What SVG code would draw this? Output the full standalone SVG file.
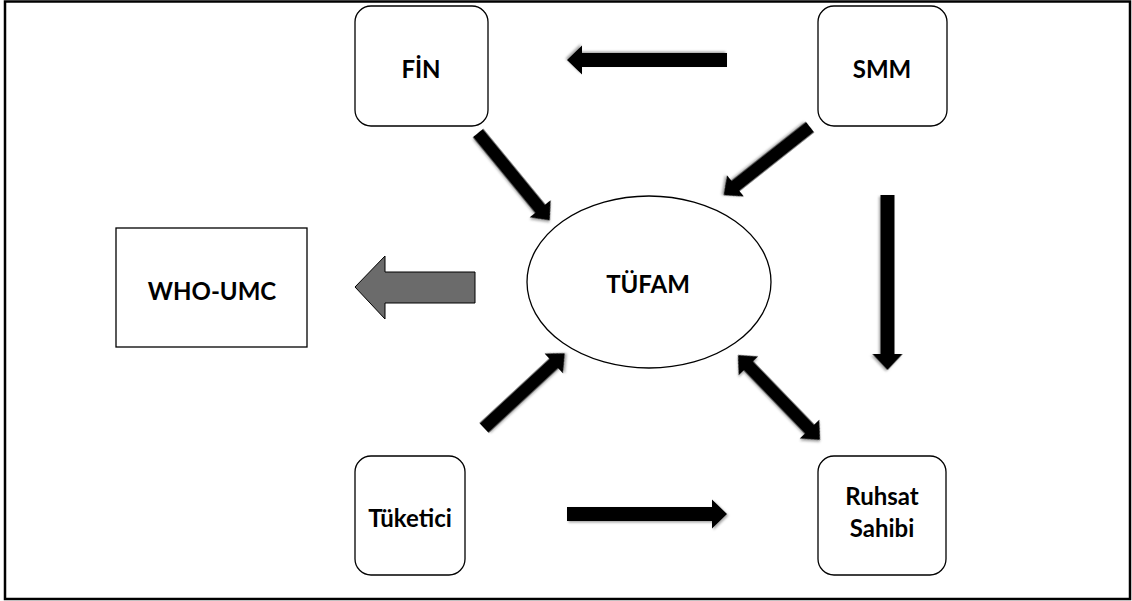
<svg xmlns="http://www.w3.org/2000/svg" width="1132" height="601" viewBox="0 0 1132 601">
<defs>
<style>
.box{fill:#fff;stroke:#000;stroke-width:1.3}
.lbl{font-family:"Lato","Open Sans",sans-serif;font-weight:700;font-size:24px;fill:#000;text-anchor:middle}
.arr{fill:#000;filter:url(#sh)}
</style>
<filter id="sh" x="-20%" y="-20%" width="140%" height="140%">
<feDropShadow dx="1.5" dy="1.5" stdDeviation="1.2" flood-color="#000" flood-opacity="0.35"/>
</filter>
</defs>
<rect x="5" y="1.5" width="1125" height="597.5" fill="#fff" stroke="#000" stroke-width="2.5"/>
<g id="connectors">
<polygon class="arr" points="0,-7 145,-7 145,-14.5 160,0 145,14.5 145,7 0,7" transform="translate(727,60) rotate(180)"/>
<polygon class="arr" points="0,-6.5 95,-6.5 95,-13.5 110,0 95,13.5 95,6.5 0,6.5" transform="translate(810,127) rotate(141.7)"/>
<polygon class="arr" points="0,-6.5 98,-6.5 98,-13.5 113,0 98,13.5 98,6.5 0,6.5" transform="translate(478,133) rotate(50.6)"/>
<polygon class="arr" points="0,-6.5 95,-6.5 95,-13.5 110,0 95,13.5 95,6.5 0,6.5" transform="translate(484,428) rotate(-42.8)"/>
<polygon class="arr" points="0,0 15,-13.5 15,-6.5 103,-6.5 103,-13.5 118,0 103,13.5 103,6.5 15,6.5 15,13.5" transform="translate(738,355) rotate(46)"/>
<polygon class="arr" points="0,-7 159,-7 159,-15 175,0 159,15 159,7 0,7" transform="translate(887.5,195) rotate(90)"/>
<polygon class="arr" points="0,-7 145,-7 145,-14.5 160,0 145,14.5 145,7 0,7" transform="translate(567,514)"/>
<polygon points="355,287 385,256 385,272 475,272 475,303 385,303 385,319" fill="#6b6b6b" stroke="#000" stroke-width="1"/>
</g>
<g id="fin">
<rect class="box" x="355" y="6" width="133" height="120" rx="16"/>
<text class="lbl" x="421" y="78">FİN</text>
</g>
<g id="smm">
<rect class="box" x="818" y="6" width="129" height="120" rx="16"/>
<text class="lbl" x="882" y="78">SMM</text>
</g>
<g id="tufam">
<ellipse cx="649" cy="282" rx="122" ry="86" fill="#fff" stroke="#000" stroke-width="1.3"/>
<text class="lbl" x="648" y="293">TÜFAM</text>
</g>
<g id="who-umc">
<rect x="116" y="228" width="191" height="119" fill="#fff" stroke="#000" stroke-width="1.3"/>
<text class="lbl" x="212" y="300">WHO-UMC</text>
</g>
<g id="tuketici">
<rect class="box" x="355" y="456" width="110" height="119" rx="16"/>
<text class="lbl" x="410" y="527">Tüketici</text>
</g>
<g id="ruhsat">
<rect class="box" x="818" y="456" width="128" height="119" rx="16"/>
<text class="lbl" x="882" y="505">Ruhsat</text>
<text class="lbl" x="882" y="537">Sahibi</text>
</g>
</svg>
